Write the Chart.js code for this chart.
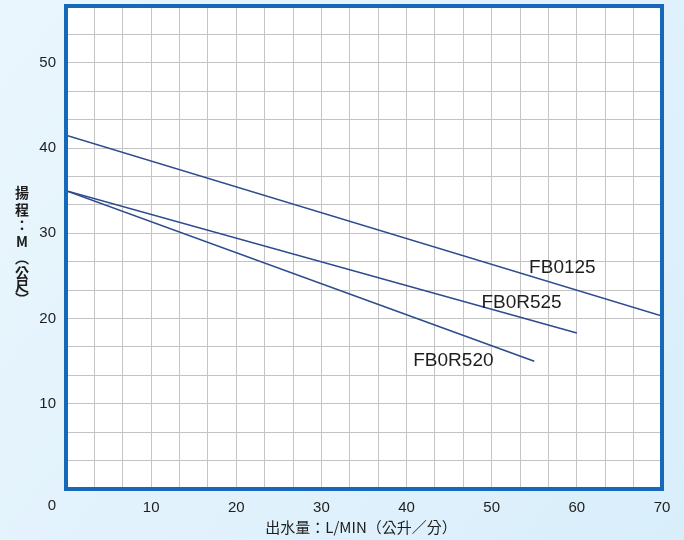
<!DOCTYPE html>
<html>
<head>
<meta charset="utf-8">
<script src="https://cdn.jsdelivr.net/npm/chart.js@4/dist/chart.umd.min.js"></script>
<style>
  html, body { margin: 0; padding: 0; background: #e3f2fc; }
  #wrap { width: 684px; height: 540px; }
</style>
</head>
<body>
<div id="wrap"><canvas id="pumpChart" width="684" height="540"></canvas></div>
<script>
// ========== data ==========
const flowFB0125 = [0, 70];
const headFB0125 = [41.5, 20.3];
const flowFB0R525 = [0, 60];
const headFB0R525 = [35, 18.3];
const flowFB0R520 = [0, 55];
const headFB0R520 = [35, 15];

const seriesNames = ['FB0125', 'FB0R525', 'FB0R520'];
// label anchor points (flow, head) for the curve names
const nameFlow = [58.3, 53.5, 45.5];
const nameHead = [26, 21.8, 15];

const xTickLabels = [10, 20, 30, 40, 50, 60, 70];
const yTickLabels = [10, 20, 30, 40, 50];
const gridStep = 10 / 3;
const xMax = 70;
const yMax = 170 / 3;

const xTitle = '出水量：L/MIN（公升／分）';
const yTitleChars = ['揚', '程', '：', 'M', '︵', '公', '尺', '︶'];

const lineColor = '#2d4b8e';
const frameColor = '#1668b8';
const textColor = '#1e1e1e';

function toPoints(xs, ys) {
    return xs.map((x, i) => ({ x: x, y: ys[i] }));
}

function gridTicks(max) {
    const ticks = [];
    for (let i = 0; i * gridStep <= max + 1e-6; i++) ticks.push({ value: i * gridStep });
    return ticks;
}

function isLabelTick(v, list) {
    return list.some(t => Math.abs(t - v) < 1e-6);
}

const decorPlugin = {
    id: 'decor',
    beforeDraw(chart) {
        const { ctx, chartArea: a } = chart;
        ctx.save();
        const g = ctx.createLinearGradient(0, 0, chart.width, chart.height);
        g.addColorStop(0, '#eaf6fd');
        g.addColorStop(1, '#d9eefb');
        ctx.fillStyle = g;
        ctx.fillRect(0, 0, chart.width, chart.height);
        ctx.fillStyle = '#ffffff';
        ctx.fillRect(a.left, a.top, a.right - a.left, a.bottom - a.top);
        ctx.restore();
    },
    afterDraw(chart) {
        const { ctx, chartArea: a, scales } = chart;
        ctx.save();
        // frame
        ctx.strokeStyle = frameColor;
        ctx.lineWidth = 4;
        ctx.strokeRect(a.left, a.top, a.right - a.left, a.bottom - a.top);

        // curve names
        ctx.fillStyle = textColor;
        ctx.font = '19px "Liberation Sans", Arial, sans-serif';
        ctx.textAlign = 'center';
        ctx.textBaseline = 'middle';
        seriesNames.forEach((name, i) => {
            ctx.fillText(name, scales.x.getPixelForValue(nameFlow[i]), scales.y.getPixelForValue(nameHead[i]));
        });

        // shared origin label
        ctx.font = '15px "Liberation Sans", Arial, sans-serif';
        ctx.fillText('0', a.left - 14, a.bottom + 17);

        // axis titles
        ctx.font = '15px "Noto Sans CJK TC", "Liberation Sans", sans-serif';
        ctx.fillText(xTitle, (a.left + a.right) / 2 - 3, a.bottom + 38);
        const ys = [193, 210, 225, 242, 258, 273, 286, 299];
        ctx.font = 'bold 14px "Noto Sans CJK TC", "Liberation Sans", sans-serif';
        yTitleChars.forEach((c, i) => ctx.fillText(c, 22, ys[i]));
        ctx.restore();
    }
};

const lineStyle = {
    borderColor: lineColor,
    borderWidth: 1.6,
    pointRadius: 0,
    fill: false,
    tension: 0
};

new Chart(document.getElementById('pumpChart'), {
    type: 'line',
    data: {
        datasets: [
            Object.assign({ label: seriesNames[0], data: toPoints(flowFB0125, headFB0125) }, lineStyle),
            Object.assign({ label: seriesNames[1], data: toPoints(flowFB0R525, headFB0R525) }, lineStyle),
            Object.assign({ label: seriesNames[2], data: toPoints(flowFB0R520, headFB0R520) }, lineStyle)
        ]
    },
    options: {
        responsive: false,
        animation: false,
        layout: { padding: { top: 6, right: 22, left: 0, bottom: 0 } },
        plugins: {
            legend: { display: false },
            tooltip: { enabled: false }
        },
        scales: {
            x: {
                type: 'linear',
                min: 0,
                max: xMax,
                afterBuildTicks: s => { s.ticks = gridTicks(xMax); },
                afterFit: s => { s.height = 51; s.paddingLeft = 0; s.paddingRight = 0; },
                grid: { color: '#c4c4c4', lineWidth: 1, drawTicks: false },
                border: { display: false },
                ticks: {
                    color: textColor,
                    padding: 10,
                    maxRotation: 0,
                    autoSkip: false,
                    font: { family: '"Liberation Sans", Arial, sans-serif', size: 15 },
                    callback: v => isLabelTick(v, xTickLabels) ? String(Math.round(v)) : ''
                }
            },
            y: {
                type: 'linear',
                min: 0,
                max: yMax,
                afterBuildTicks: s => { s.ticks = gridTicks(yMax); },
                afterFit: s => { s.width = 66; s.paddingTop = 0; s.paddingBottom = 0; },
                grid: { color: '#c4c4c4', lineWidth: 1, drawTicks: false },
                border: { display: false },
                ticks: {
                    color: textColor,
                    padding: 10,
                    autoSkip: false,
                    font: { family: '"Liberation Sans", Arial, sans-serif', size: 15 },
                    callback: v => isLabelTick(v, yTickLabels) ? String(Math.round(v)) : ''
                }
            }
        }
    },
    plugins: [decorPlugin]
});
</script>
</body>
</html>
